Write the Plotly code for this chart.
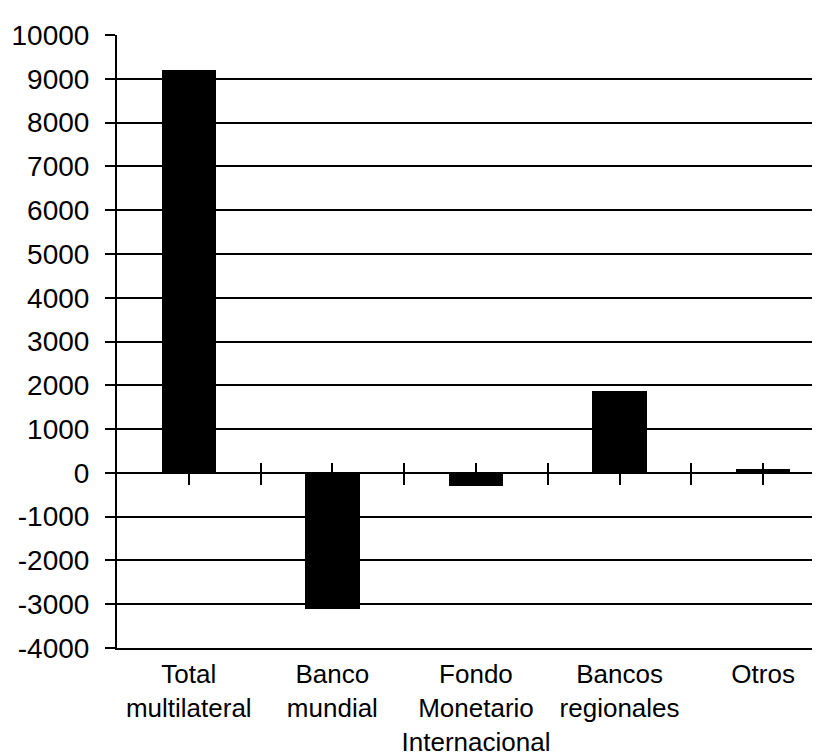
import plotly.graph_objects as go

categories = ["Total<br>multilateral", "Banco<br>mundial", "Fondo<br>Monetario<br>Internacional",
              "Bancos<br>regionales", "Otros"]
values = [9200, -3100, -290, 1880, 80]
y_min, y_max, y_step = -4000, 10000, 1000
y_tickvals = list(range(y_min, y_max + 1, y_step))
y_ticktext = [str(v) for v in y_tickvals]
tick_positions = [i * 0.5 for i in range(0, 9)]

x_range = [-0.5, 4.396]
zero_pos = (0 - y_min) / (y_max - y_min)
font_x = dict(family="Liberation Sans, Arial, sans-serif", size=26, color="black")
font_y = dict(family="Liberation Sans, Arial, sans-serif", size=28, color="black")

fig = go.Figure()
fig.add_trace(go.Bar(x=list(range(len(categories))), y=values, marker=dict(color="black", line=dict(width=0)),
                     width=0.38, hoverinfo="skip"))
# helper traces so the overlay tick axes at zero are drawn
fig.add_trace(go.Scatter(x=[0], y=[0], xaxis="x2", mode="markers", marker=dict(opacity=0), hoverinfo="skip"))
fig.add_trace(go.Scatter(x=[0], y=[0], xaxis="x3", mode="markers", marker=dict(opacity=0), hoverinfo="skip"))

fig.update_layout(
    width=812, height=748,
    margin=dict(l=109, r=0, t=27, b=108, autoexpand=False),
    paper_bgcolor="white", plot_bgcolor="white",
    showlegend=False, font=font_x,
    bargap=0,
    xaxis=dict(range=x_range, tickmode="array", tickvals=list(range(len(categories))), ticktext=categories,
               showgrid=False, zeroline=False, showline=True, linecolor="black", linewidth=2,
               ticks="", tickfont=font_x, ticklabelstandoff=2, automargin=False),
    xaxis2=dict(range=x_range, overlaying="x", anchor="free", position=zero_pos, side="bottom",
                tickmode="array", tickvals=tick_positions, showticklabels=False, ticks="outside",
                ticklen=11, tickwidth=2, tickcolor="black", showgrid=False, zeroline=False,
                showline=False, layer="below traces"),
    xaxis3=dict(range=x_range, overlaying="x", anchor="free", position=zero_pos, side="bottom",
                tickmode="array", tickvals=tick_positions, showticklabels=False, ticks="inside",
                ticklen=10, tickwidth=2, tickcolor="black", showgrid=False, zeroline=False,
                showline=False, layer="below traces"),
    yaxis=dict(range=[y_min, y_max], tickmode="array", tickvals=y_tickvals, ticktext=y_ticktext,
               showgrid=True, gridcolor="black", gridwidth=2,
               zeroline=True, zerolinecolor="black", zerolinewidth=2,
               showline=True, linecolor="black", linewidth=2,
               ticks="outside", ticklen=10, tickwidth=2, tickcolor="black", tickfont=font_y,
               ticklabelstandoff=10, automargin=False, layer="below traces"),
)

fig.write_html("out.html")
